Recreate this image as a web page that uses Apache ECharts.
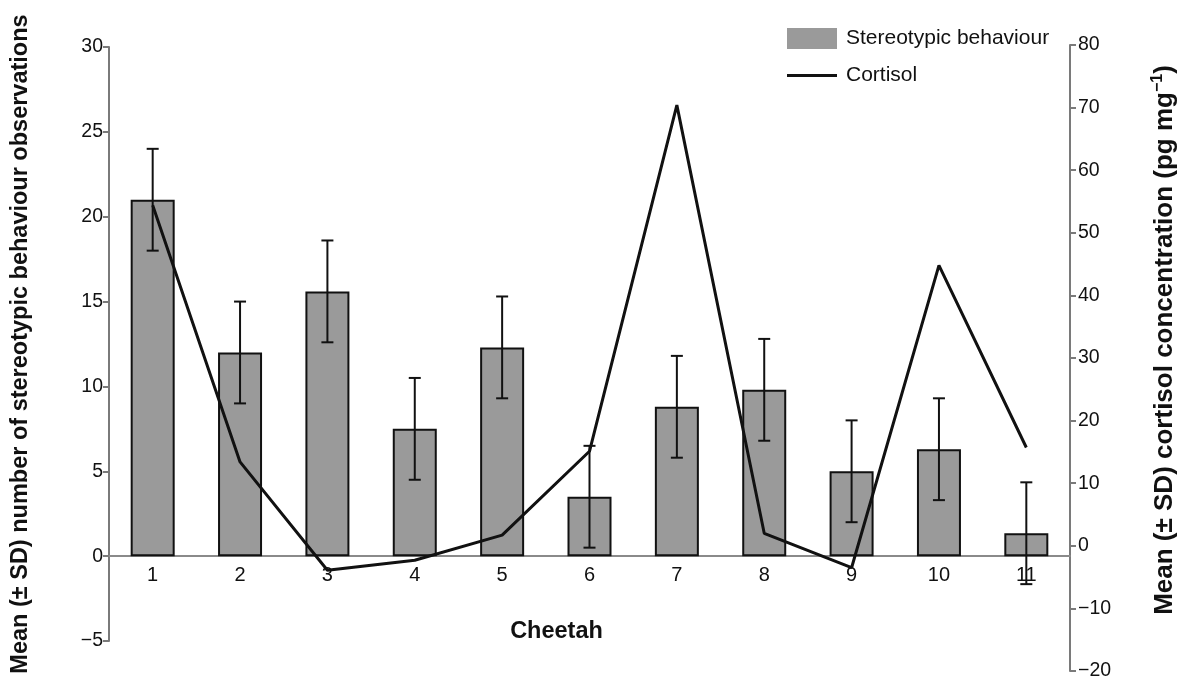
<!DOCTYPE html>
<html>
<head>
<meta charset="utf-8">
<script src="https://cdn.jsdelivr.net/npm/echarts@6/dist/echarts.min.js"></script>
<style>
html,body{margin:0;padding:0;background:#fff;}
#chart{width:1184px;height:681px;}
</style>
</head>
<body>
<div id="chart"></div>
<script>
const categories = ['1','2','3','4','5','6','7','8','9','10','11'];
const stereotypic = [21, 12, 15.6, 7.5, 12.3, 3.5, 8.8, 9.8, 5.0, 6.3, 1.35];
const stereotypicSD = [3, 3, 3, 3, 3, 3, 3, 3, 3, 3, 3];
const cortisol = [54.4, 13.4, -3.9, -2.3, 1.7, 15.1, 70.4, 2.0, -3.5, 44.8, 15.7];
const leftTicks = {min: -5, max: 30, interval: 5};
const rightTicks = {min: -20, max: 80, interval: 10};

const FONT = '"Liberation Sans", Arial, sans-serif';
const minusFmt = v => String(v).replace('-', '\u2212');
const errData = stereotypic.map((v, i) => [i, v, stereotypicSD[i]]);

const chart = echarts.init(document.getElementById('chart'), null, {renderer: 'canvas'});
chart.setOption({
  animation: false,
  textStyle: {fontFamily: FONT},
  grid: [
    {left: 109, right: 114, top: 47, bottom: 40, outerBoundsMode: 'none', containLabel: false},
    {left: 109, right: 114, top: 45, bottom: 10, outerBoundsMode: 'none', containLabel: false}
  ],
  legend: {
    orient: 'vertical', left: 787, top: 28, padding: 0,
    itemWidth: 50, itemHeight: 21, itemGap: 16,
    textStyle: {fontFamily: FONT, fontSize: 21, color: '#111', padding: [0, 0, 0, 4]},
    data: [
      {name: 'Stereotypic behaviour', icon: 'rect', itemStyle: {borderWidth: 0, color: '#9a9a9a'}},
      {name: 'Cortisol', icon: 'path://M0,0 L50,0 L50,3 L0,3 Z', itemStyle: {color: '#111', borderWidth: 0}}
    ]
  },
  xAxis: [
    {
      type: 'category', gridIndex: 0, data: categories, boundaryGap: true,
      position: 'bottom', offset: -85,
      axisLine: {onZero: false, lineStyle: {color: '#8a8a8a', width: 2}},
      axisTick: {show: false},
      axisLabel: {color: '#111', fontSize: 20, fontFamily: FONT, margin: 9},
      name: 'Cheetah', nameLocation: 'middle', nameGap: 64,
      nameTextStyle: {fontFamily: FONT, fontSize: 23.5, fontWeight: 'bold', color: '#111', padding: [0, 66, 0, 0]}
    },
    {
      type: 'category', gridIndex: 1, data: categories, boundaryGap: true, show: false
    }
  ],
  yAxis: [
    {
      type: 'value', gridIndex: 0, position: 'left',
      min: leftTicks.min, max: leftTicks.max, interval: leftTicks.interval,
      splitLine: {show: false},
      axisLine: {show: true, lineStyle: {color: '#7a7a7a', width: 2}},
      axisTick: {show: true, length: 6, lineStyle: {color: '#7a7a7a', width: 2}},
      axisLabel: {color: '#111', fontSize: 19.5, fontFamily: FONT, margin: 6, formatter: minusFmt},
      name: 'Mean (\u00b1 SD) number of stereotypic behaviour observations',
      nameLocation: 'middle', nameRotate: 90, nameGap: 76,
      nameTextStyle: {fontFamily: FONT, fontSize: 23.5, fontWeight: 'bold', color: '#111'}
    },
    {
      type: 'value', gridIndex: 1, position: 'right',
      min: rightTicks.min, max: rightTicks.max, interval: rightTicks.interval,
      splitLine: {show: false},
      axisLine: {show: true, onZero: false, lineStyle: {color: '#7a7a7a', width: 2}},
      axisTick: {show: true, length: 6, lineStyle: {color: '#7a7a7a', width: 2}},
      axisLabel: {color: '#111', fontSize: 19.5, fontFamily: FONT, margin: 8, formatter: minusFmt},
      name: '{t|Mean (\u00b1 SD) cortisol concentration (pg mg}{s|\u22121}{t|)}',
      nameLocation: 'middle', nameRotate: 90, nameGap: 80,
      nameTextStyle: {
        fontFamily: FONT, fontSize: 26, fontWeight: 'bold', color: '#111',
        padding: [0, 0, 0, 36],
        rich: {
          t: {fontFamily: FONT, fontSize: 26, fontWeight: 'bold', color: '#111'},
          s: {fontFamily: FONT, fontSize: 16, fontWeight: 'bold', color: '#111', verticalAlign: 'top', padding: [0, 0, 14, 0]}
        }
      }
    }
  ],
  series: [
    {
      name: 'Stereotypic behaviour', type: 'bar', xAxisIndex: 0, yAxisIndex: 0,
      data: stereotypic, barWidth: 44,
      itemStyle: {color: '#9a9a9a', borderColor: '#111', borderWidth: 2}
    },
    {
      type: 'custom', xAxisIndex: 0, yAxisIndex: 0, data: errData,
      encode: {x: 0, y: 1}, z: 3,
      renderItem: function (params, api) {
        const x = api.value(0), m = api.value(1), sd = api.value(2);
        const top = api.coord([x, m + sd]);
        const bot = api.coord([x, m - sd]);
        const cw = 6;
        const st = {stroke: '#111', lineWidth: 2};
        return {
          type: 'group',
          children: [
            {type: 'line', shape: {x1: top[0], y1: top[1], x2: bot[0], y2: bot[1]}, style: st},
            {type: 'line', shape: {x1: top[0] - cw, y1: top[1], x2: top[0] + cw, y2: top[1]}, style: st},
            {type: 'line', shape: {x1: bot[0] - cw, y1: bot[1], x2: bot[0] + cw, y2: bot[1]}, style: st}
          ]
        };
      }
    },
    {
      name: 'Cortisol', type: 'line', xAxisIndex: 1, yAxisIndex: 1,
      data: cortisol, symbol: 'none', z: 5,
      lineStyle: {color: '#111', width: 3}, itemStyle: {color: '#111'}
    }
  ]
});
</script>
</body>
</html>
